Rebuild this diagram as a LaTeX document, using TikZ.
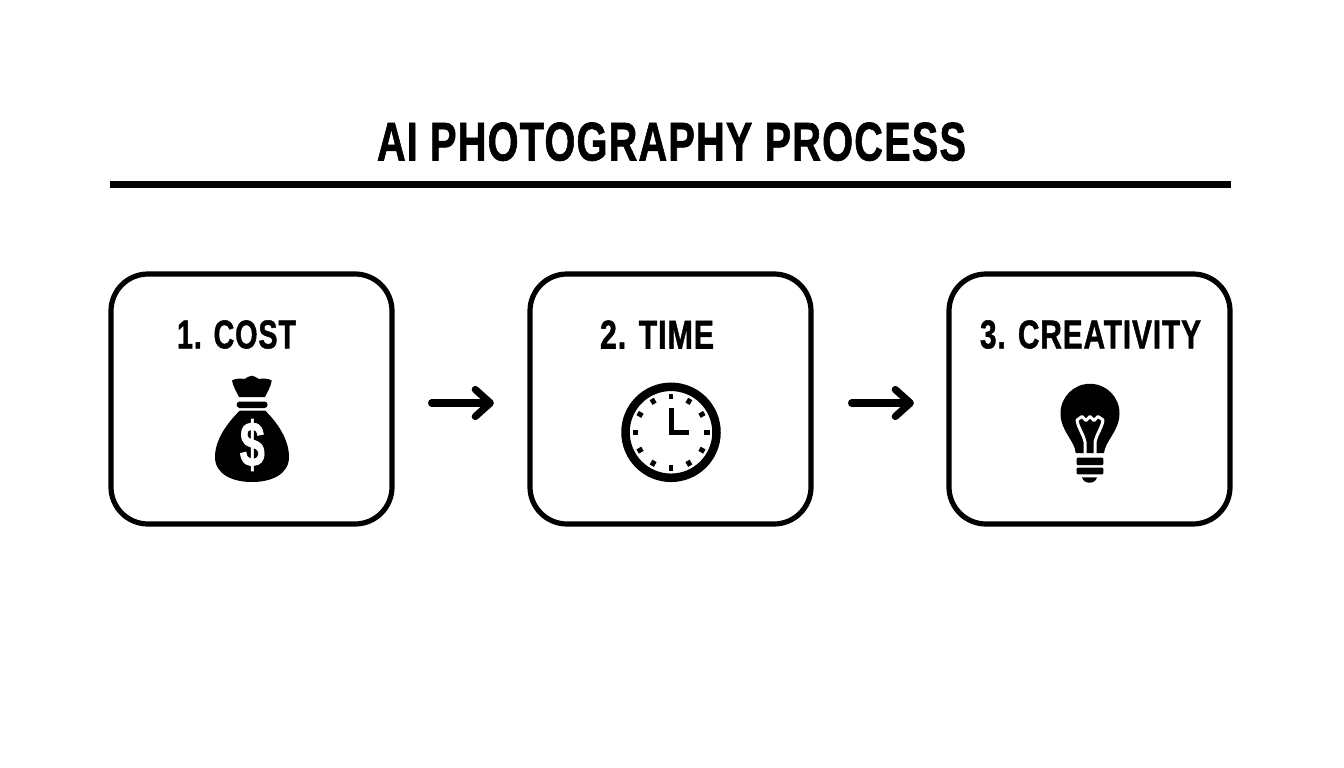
\documentclass[tikz,border=0pt]{standalone}
\usepackage{graphicx}
\usepackage{fontspec}
\setmainfont[BoldFeatures={FakeBold=1.4,LetterSpace=3}]{Liberation Sans}
\usetikzlibrary{arrows.meta}
\newcommand{\fitbox}[3]{\resizebox{#1pt}{#2pt}{\bfseries #3}}
\tikzset{
  card/.style={draw=black,line width=5.2pt,rounded corners=37pt,minimum width=281pt,minimum height=250pt,inner sep=0pt,fill=white},
  flow/.style={line width=7.2pt,line cap=round,shorten <=37pt,shorten >=33.5pt,-{Straight Barb[round,length=15pt,width=27pt]}},
  lab/.style={inner sep=0pt,text=black},
  ink/.style={fill=black,draw=none}
}
\begin{document}
\begin{tikzpicture}[x=1pt,y=-1pt]
\useasboundingbox[fill=white] (0,0) rectangle (1344,768);
\node[lab] (title) at (671.5,141.7) {\fitbox{589}{38}{AI PHOTOGRAPHY PROCESS}};
\coordinate (ruleL) at (110,184);
\coordinate (ruleR) at (1231,184);
\draw[line width=7pt] (ruleL) -- (ruleR);
\node[card] (b1) at (251.5,399) {};
\node[card] (b2) at (670.5,399) {};
\node[card] (b3) at (1089.5,399) {};
\node[lab] (t1) at (236.5,334.5) {\fitbox{119}{28}{1. COST}};
\node[lab] (t2) at (657,334.5) {\fitbox{114}{28}{2. TIME}};
\node[lab] (t3) at (1090.5,334.5) {\fitbox{221}{28}{3. CREATIVITY}};
\draw[flow] ([yshift=-4pt]b1.east) -- ([yshift=-4pt]b2.west);
\draw[flow] ([yshift=-4pt,xshift=1pt]b2.east) -- ([yshift=-4pt,xshift=1pt]b3.west);
% money bag
\fill[ink] (232,380.5) .. controls (236,378) and (241,378.5) .. (244.5,379)
  .. controls (247,378) and (249,375.7) .. (251.7,375.7)
  .. controls (254.5,375.7) and (256.5,378) .. (259,379)
  .. controls (262,378.5) and (268,378) .. (271.7,380.5)
  .. controls (271,386) and (268,391) .. (265,397)
  -- (239,397) .. controls (236,391) and (233,386) .. (232,380.5) -- cycle;
\fill[ink,rounded corners=3pt] (236.7,401.5) rectangle (267.5,408);
\fill[ink] (240,410.5) -- (265,410.5)
  .. controls (278,423) and (289,440) .. (289,457)
  .. controls (289,474) and (272,482) .. (252,482)
  .. controls (232,482) and (215,474) .. (215,457)
  .. controls (215,440) and (227,423) .. (240,410.5) -- cycle;
\node[lab,text=white] (dollar) at (252.3,445) {\fitbox{25}{47}{\$}};
% clock
\draw[line width=8.5pt] (671,432.3) circle (45.5);
\foreach \a in {0,30,...,330}
  \fill[ink,shift={(671,432.3)},rotate=\a] (-2.4,-38.5) rectangle (2.4,-33);
\draw[line width=5pt,line join=miter] (671,407.7) -- (671,432.3) -- (689,432.3);
% bulb
\fill[ink] (1075.7,453) .. controls (1075,441) and (1060.5,431) .. (1060.5,413.3)
  arc[start angle=180,end angle=360,radius=29.5]
  .. controls (1119.5,431) and (1105,441) .. (1104,453) -- cycle;
\draw[white,line width=3pt,line join=round,line cap=butt] (1085,454) -- (1085,442)
  .. controls (1083,433) and (1078,428) .. (1077,420)
  -- (1082,416.5) -- (1086,420.5) -- (1090,416.5) -- (1094,420.5) -- (1098,416.5) -- (1103,420)
  .. controls (1102,428) and (1097,433) .. (1095,442) -- (1095,454);
\fill[ink,rounded corners=1pt] (1076.7,457.7) rectangle (1103.3,465);
\fill[ink,rounded corners=1pt] (1076.7,467.7) rectangle (1103.3,474.3);
\fill[ink] (1082,477.3) -- (1097,477.3) .. controls (1096,481) and (1093,482.7) .. (1089.5,482.7)
  .. controls (1086,482.7) and (1083,481) .. (1082,477.3) -- cycle;
\end{tikzpicture}
\end{document}
